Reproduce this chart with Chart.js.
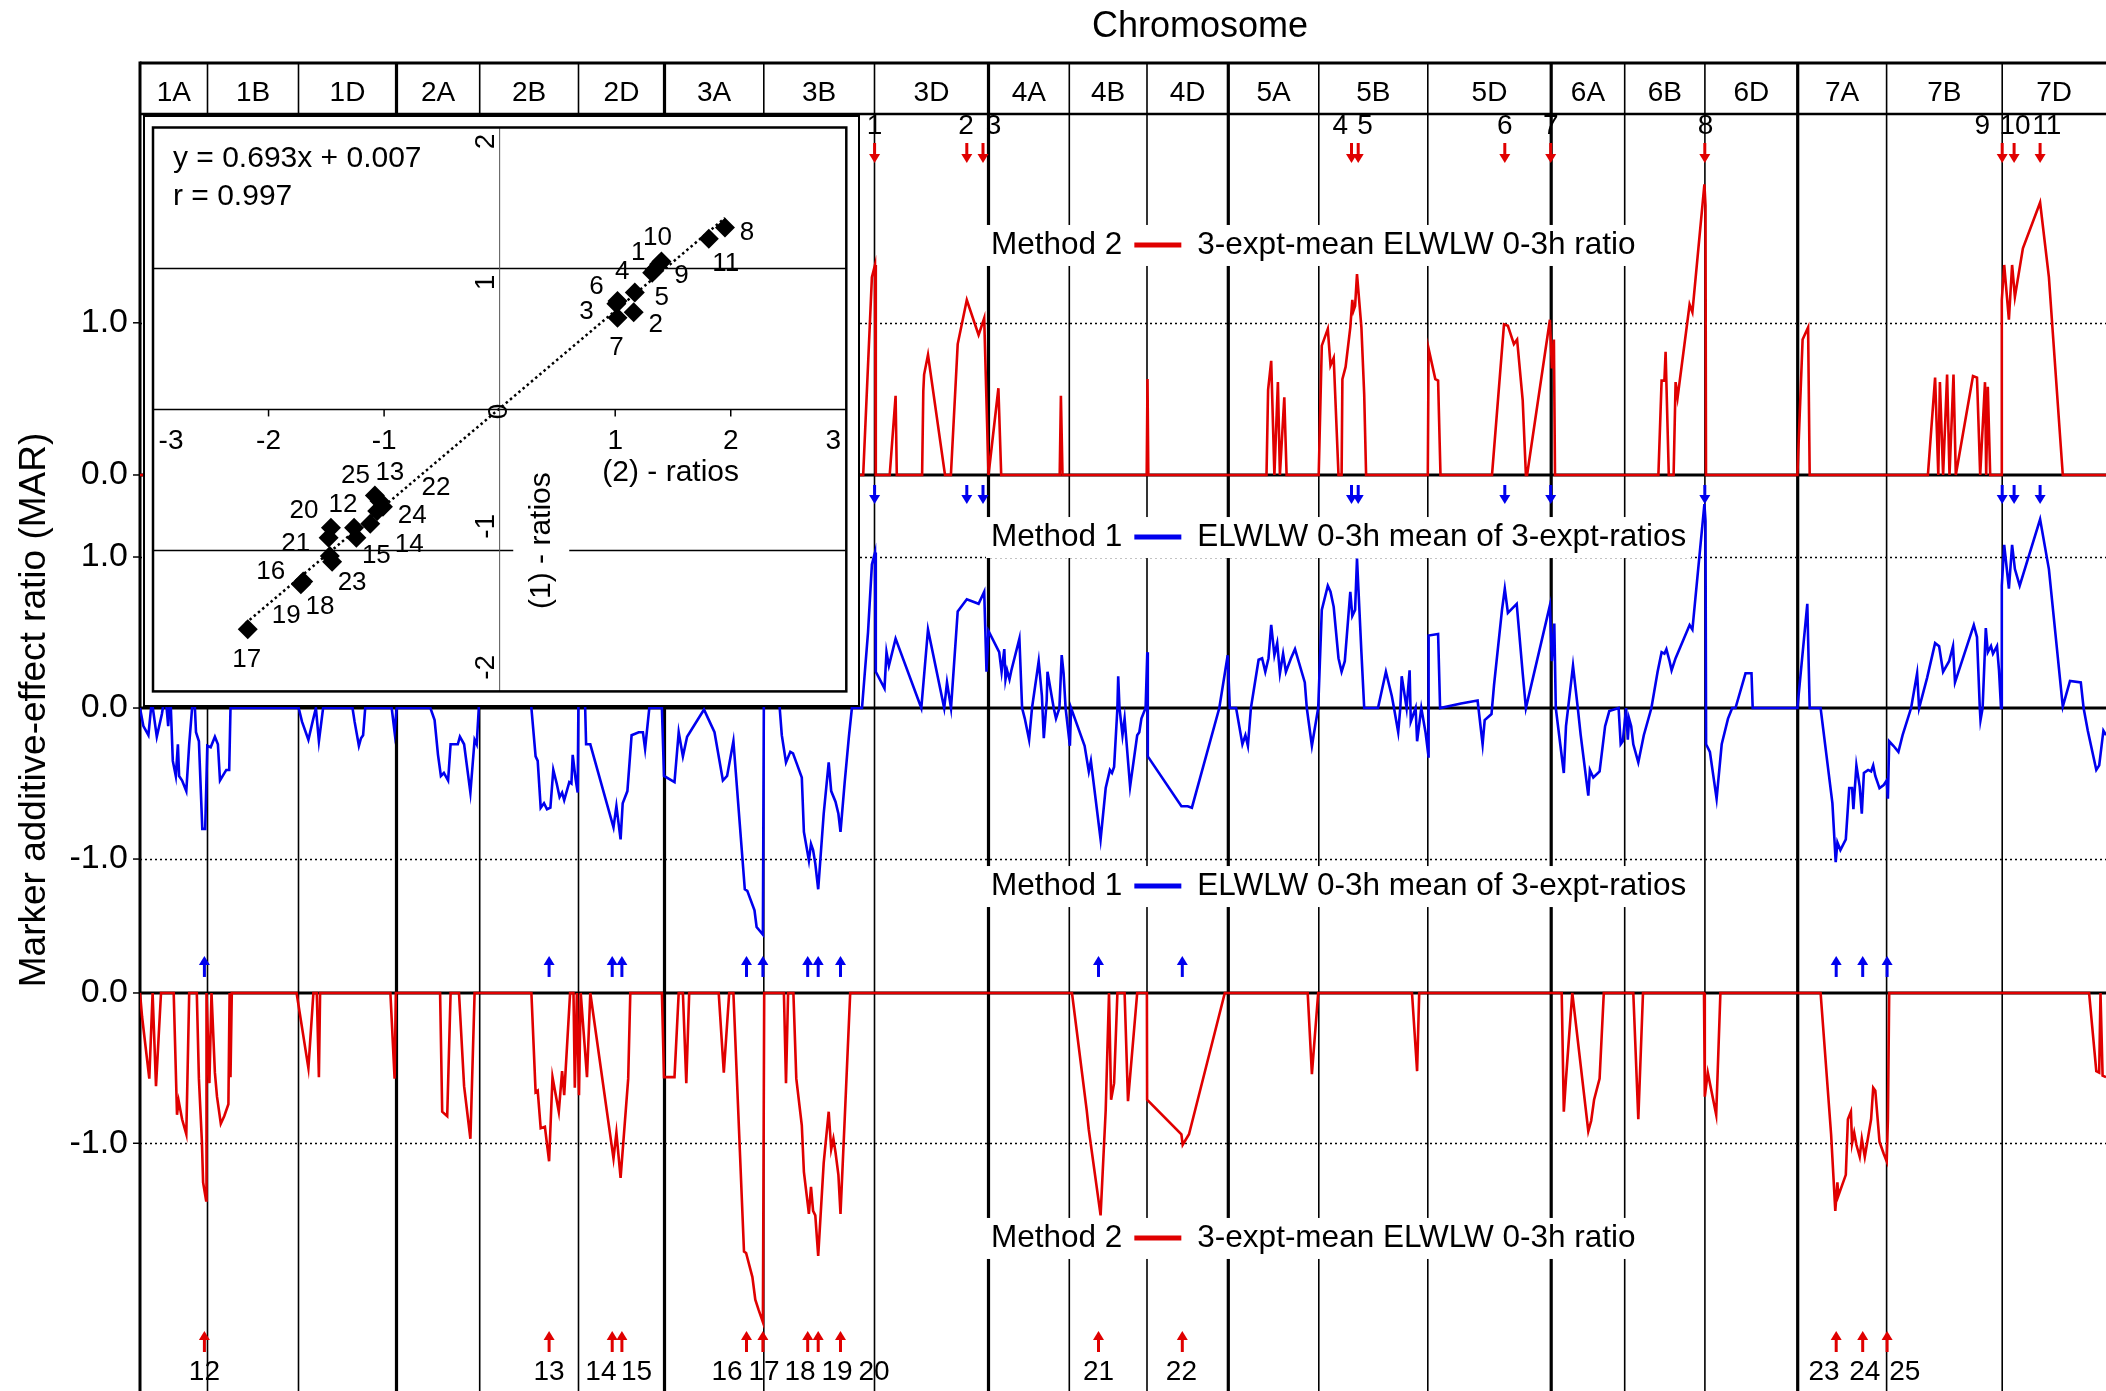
<!DOCTYPE html>
<html>
<head>
<meta charset="utf-8">
<script src="https://cdn.jsdelivr.net/npm/chart.js@4.4.1/dist/chart.umd.min.js"></script>
<style>
	html, body { margin: 0; padding: 0; background: #fff; }
	#wrap { position: relative; width: 2106px; height: 1391px; overflow: hidden; }
	#main { position: absolute; left: 0; top: 0; }
	#inset { position: absolute; left: 143px; top: 115px; }
</style>
</head>
<body>
<div id="wrap">
	<canvas id="main" width="2106" height="1391"></canvas>
	<canvas id="inset" width="717" height="592"></canvas>
</div>
<script>
// chromosome map (cumulative map position, cM)
const chromosomes = ["1A", "1B", "1D", "2A", "2B", "2D", "3A", "3B", "3D", "4A", "4B", "4D", "5A", "5B", "5D", "6A", "6B", "6D", "7A", "7B", "7D"]
const chromStarts = [0, 67.5, 158.5, 256.5, 339.7, 438.5, 524.5, 623.8, 734.5, 848.5, 929.3, 1007, 1088.3, 1178.8, 1287.8, 1411.2, 1484.7, 1564.9, 1657.7, 1746.6, 1862.2]
const mapEnd = 1966

// Method 2: 3-expt-mean ratio, positive effects (top panel)
const method2Up = [
	[0, 0], [723.2, 0], [731.9, 1.30], [735, 1.38], [735.8, 0], [749.7, 0], [755.6, 0.52], [756.8, 0], [782.1, 0], [783.3, 0.55], [784.1, 0.66], [788, 0.79], [805, 0],
	[810.9, 0], [817.7, 0.86], [826.8, 1.15], [838.6, 0.92], [844.2, 1.03], [848.5, 0], [858.4, 0.57], [861.2, 0], [919.7, 0], [920.9, 0.52], [922.5, 0],
	[1006.7, 0], [1007.5, 0.63], [1008.3, 0], [1126.5, 0], [1128.1, 0.56], [1131.2, 0.75], [1134.4, 0], [1137.9, 0.61], [1139.9, 0], [1144.3, 0.51], [1146.6, 0],
	[1178.7, 0], [1181.8, 0.85], [1187.8, 0.96], [1190.5, 0.72], [1193.7, 0.77], [1198.5, 0], [1201.6, 0], [1202.4, 0.63], [1205.6, 0.71], [1210.3, 0.97],
	[1212.3, 1.15], [1213.5, 1.08], [1215.1, 1.11], [1217, 1.32], [1221.4, 0.97], [1224.2, 0.53], [1226.1, 0], [1287.8, 0], [1288.6, 0.83], [1295.3, 0.63],
	[1298.1, 0.62], [1300.5, 0], [1352, 0], [1364, 0.99], [1367.9, 0.98], [1373.9, 0.86], [1377.1, 0.89], [1382.7, 0.49], [1385.9, 0], [1387.1, 0],
	[1409.9, 1.02], [1411.9, 0.70], [1413.9, 0.89], [1415, 0], [1518.4, 0], [1521.6, 0.62], [1524.4, 0.62], [1525.6, 0.81], [1528.8, 0], [1533.6, 0],
	[1535.6, 0.61], [1537.6, 0.51], [1549.6, 1.12], [1552.4, 1.07], [1564.4, 1.91], [1565.5, 1.77], [1566, 0], [1657.4, 0], [1662.6, 0.89], [1668.1, 0.97],
	[1669.7, 0], [1787.9, 0], [1795.1, 0.64], [1798.3, 0], [1799.9, 0.61], [1803.1, 0], [1807.1, 0.66], [1809.5, 0], [1813.5, 0.66], [1815.8, 0],
	[1833, 0.65], [1837, 0.64], [1840.2, 0], [1845, 0.61], [1846.2, 0], [1847.8, 0.58], [1850.2, 0], [1861, 0], [1861.8, 1.15], [1864.2, 1.38],
	[1868.9, 1.02], [1872.1, 1.38], [1874.9, 1.17], [1882.9, 1.49], [1900.1, 1.79], [1908.9, 1.30], [1922.8, 0], [1966, 0],
]

// Method 1: mean of 3-expt ratios (middle panel)
const method1 = [
	[0, 0], [3.4, -0.12], [8.4, -0.18], [11.8, 0.05], [16.8, -0.19], [21.9, -0.04], [25.3, 0.1], [28.2, -0.12], [30.3, 0.1], [32.8, -0.35], [35.8, -0.45],
	[37.9, -0.24], [39.1, -0.45], [42.1, -0.48], [46.3, -0.55], [49.2, -0.24], [53.9, 0.15], [56, -0.16], [58.9, -0.22], [62.3, -0.80], [65.2, -0.80],
	[67.3, -0.25], [70.7, -0.26], [74.9, -0.19], [77.9, -0.24], [80, -0.48], [86.3, -0.41], [89.2, -0.41], [90.5, 0],
	[158.7, 0], [162, -0.09], [168.4, -0.21], [172.6, -0.09], [175.9, 0], [178.9, -0.22], [183.1, 0],
	[212.5, 0], [214.6, -0.09], [218.9, -0.25], [221, -0.20], [223.1, -0.18], [225.2, 0], [251.7, 0], [254.6, -0.16], [256.7, 0],
	[290.4, 0], [294.6, -0.08], [298, -0.31], [300.9, -0.45], [303.9, -0.43], [308.1, -0.48], [310.6, -0.24], [317.8, -0.24], [319.9, -0.19],
	[324.1, -0.24], [330.4, -0.56], [334.6, -0.21], [336.7, -0.24], [338.8, 0], [339.5, 0.6], [390.5, 0.4],
	[391.4, 0], [395.6, -0.32], [397.7, -0.35], [400.7, -0.66], [404, -0.63], [407, -0.67], [410.4, -0.66], [413.3, -0.41], [416.7, -0.50],
	[419.6, -0.59], [422.1, -0.56], [424.2, -0.61], [429.3, -0.49], [431.4, -0.50], [432.7, -0.31], [435.6, -0.47], [437.7, -0.56], [439, 0.5],
	[444, 0.3], [446.1, -0.24], [450.3, -0.24], [473.5, -0.79], [476.4, -0.65], [480.6, -0.87], [482.7, -0.63], [487.4, -0.55], [491.6, -0.18],
	[498.7, -0.16], [502.9, -0.16], [505.1, -0.27], [509.3, 0], [521.9, 0], [524, -0.45], [534.5, -0.49], [538.7, -0.16], [542.9, -0.32],
	[547.1, -0.19], [564, -0.01], [568.2, -0.07], [574.5, -0.16], [582.9, -0.48], [587.1, -0.45], [593.4, -0.22], [604.8, -1.20], [607.3, -1.21],
	[614.5, -1.34], [616.6, -1.45], [622.9, -1.50], [624.2, 0.6], [638, 0.3], [639.7, 0], [641.8, -0.18], [646, -0.36], [650.3, -0.29], [653, -0.30],
	[656.3, -0.36], [661.8, -0.46], [663.9, -0.82], [668.9, -1.01], [671, -0.90], [673.1, -0.94], [675.3, -1.03], [678.2, -1.20], [683.7, -0.70],
	[688.7, -0.36], [691.2, -0.55], [695.5, -0.62], [698.4, -0.70], [700.5, -0.82], [704.7, -0.49], [708.9, -0.19], [711.9, 0],
	[722, 0], [728, 0.5], [731.9, 0.95], [735, 1.03], [735.8, 0.24], [744.5, 0.13], [746.5, 0.37], [748.9, 0.28], [755.6, 0.46], [781.3, 0],
	[788, 0.52], [804.2, 0], [807, 0.17], [811, 0], [817.7, 0.64], [826.8, 0.72], [838.6, 0.69], [844.2, 0.77], [846.5, 0.24], [848.5, 0.51],
	[859.2, 0.37], [861.6, 0.24], [864.3, 0.39], [865.5, 0.19], [867.1, 0.25], [869.5, 0.19], [871.4, 0.25], [879.4, 0.46], [882.1, 0],
	[884.8, -0.07], [889.1, -0.21], [892, 0], [898.7, 0.31], [901.9, 0.08], [903.8, -0.20], [906.7, 0.05], [907.5, 0.24], [913.7, 0], [916, -0.07],
	[919.4, 0], [921.7, 0.35], [923.6, 0.23], [925.6, 0], [929.9, -0.25], [931.1, 0], [944.6, -0.25], [948.8, -0.42], [950.9, -0.35],
	[960.6, -0.87], [965.7, -0.53], [969.9, -0.41], [972, -0.43], [974.1, -0.39], [977.4, 0], [978.2, 0.21], [979.5, 0], [982.5, -0.18],
	[984.6, -0.07], [990.1, -0.52], [997.2, -0.18], [999.3, -0.16], [1001.4, -0.07], [1005.6, 0], [1007.3, 0.37], [1007.8, -0.32], [1041.4, -0.65],
	[1047.7, -0.65], [1051.9, -0.66], [1079.3, 0], [1087.7, 0.35], [1089.8, 0], [1096.1, 0], [1102.4, -0.24], [1105.4, -0.18], [1107.9, -0.25],
	[1110.9, 0], [1118.6, 0.32], [1122.1, 0.33], [1125.3, 0.24], [1128.5, 0.33], [1131.2, 0.55], [1134.4, 0.35], [1137.2, 0.43], [1139.9, 0.23],
	[1143.1, 0.36], [1145.9, 0.24], [1151, 0.33], [1155, 0.39], [1164.8, 0.17], [1166.8, 0], [1171.9, -0.25], [1178.2, 0], [1181.8, 0.65],
	[1187.8, 0.81], [1190.5, 0.77], [1193.7, 0.67], [1198.5, 0.33], [1201.6, 0.24], [1204.8, 0.31], [1210.3, 0.77], [1212.3, 0.61], [1215.1, 0.65],
	[1217, 0.99], [1221.4, 0.37], [1224.2, 0], [1238, 0], [1245.9, 0.24], [1251.8, 0.08], [1254, 0], [1258.2, -0.16], [1260.3, 0], [1261.7, 0.21],
	[1266.6, 0], [1269.6, 0.25], [1270.8, -0.09], [1275.6, 0], [1277.1, -0.22], [1281.3, 0], [1285.5, -0.16], [1288.5, -0.32], [1288.6, 0.48],
	[1298.1, 0.49], [1300.1, 0], [1321, 0.03], [1337.6, 0.05], [1342.6, -0.24], [1344.7, -0.08], [1351.5, -0.04], [1354, 0.15], [1362, 0.65],
	[1364.8, 0.79], [1367.9, 0.63], [1376.7, 0.69], [1382.7, 0.23], [1385.9, 0], [1409.9, 0.68], [1411.9, 0.31], [1414.3, 0.56], [1415.8, 0],
	[1423.8, -0.43], [1426, -0.12], [1428.1, 0], [1433, 0.28], [1437.8, 0], [1440.7, -0.18], [1448.3, -0.58], [1449.9, -0.41], [1453.3, -0.46],
	[1459.6, -0.42], [1465.1, -0.12], [1469.3, -0.02], [1478.6, 0], [1480.7, -0.24], [1482.8, -0.22], [1486.1, 0], [1487.8, -0.21], [1489.1, -0.07],
	[1491.2, -0.12], [1493.3, -0.24], [1498.3, -0.36], [1503.8, -0.18], [1511.4, 0], [1517.6, 0.24], [1521.6, 0.37], [1524.4, 0.36], [1526.4, 0.39],
	[1529.6, 0.31], [1531.6, 0.25], [1535.6, 0.33], [1549.6, 0.55], [1552.4, 0.52], [1564.4, 1.35], [1565.5, 1.24], [1566.1, -0.24], [1569.9, -0.29],
	[1576.6, -0.60], [1581.7, -0.24], [1588, -0.07], [1592.2, 0], [1595.5, 0], [1605.5, 0.23], [1611.5, 0.23], [1612.7, 0], [1657.4, 0],
	[1667.3, 0.69], [1669.7, 0], [1680.6, 0], [1692.4, -0.63], [1695.7, -1.02], [1697.4, -0.89], [1700.4, -0.94], [1705.8, -0.87], [1709.2, -0.53],
	[1712.1, -0.53], [1713.4, -0.67], [1716.4, -0.38], [1719.7, -0.52], [1721.8, -0.70], [1723.9, -0.43], [1728.1, -0.41], [1731.1, -0.42],
	[1733.2, -0.38], [1735.3, -0.45], [1739.5, -0.53], [1743.7, -0.51], [1746.7, -0.48], [1747.9, -0.60], [1749.2, -0.22], [1753.4, -0.25],
	[1758.4, -0.29], [1762.6, -0.18], [1771.1, 0], [1777.1, 0.23], [1779.1, 0], [1787.1, 0.20], [1795.1, 0.43], [1799.1, 0.41], [1803.1, 0.24],
	[1809.1, 0.31], [1813, 0.41], [1815, 0.17], [1833.8, 0.55], [1837, 0.47], [1839.8, 0], [1840.5, -0.08], [1842.6, 0], [1845.8, 0.53],
	[1847.8, 0.37], [1851, 0.41], [1853, 0.36], [1857, 0.41], [1859, 0.25], [1861, 0], [1861.8, 0.81], [1864.2, 1.08], [1868.9, 0.79],
	[1872.1, 1.08], [1874.9, 0.92], [1879.7, 0.81], [1900.1, 1.25], [1908.9, 0.92], [1922.8, 0.01], [1930, 0.18], [1940.8, 0.17], [1943.6, 0],
	[1947.8, -0.15], [1956.3, -0.41], [1959.2, -0.38], [1963.4, -0.15], [1966, -0.18],
]

// Method 2: 3-expt-mean ratio, negative effects (bottom panel)
const method2Down = [
	[0, 0], [2.1, -0.16], [9.3, -0.57], [12.6, 0], [16, -0.62], [21, 0], [33.7, 0], [37, -0.81], [38.7, -0.72], [42.1, -0.84], [46.3, -0.94],
	[49.2, 0], [56.8, 0], [58.9, -0.57], [61.9, -0.99], [63.1, -1.26], [66.1, -1.38], [66.5, 0], [69.4, -0.60], [71.5, 0], [74.9, -0.53], [77, -0.69],
	[80.8, -0.87], [84.2, -0.82], [88.4, -0.74], [89.6, 0], [90.5, -0.56], [91.8, 0], [156.6, 0], [168.4, -0.50], [173.4, 0], [176.8, 0],
	[178.9, -0.56], [180.1, 0], [250.4, 0], [254.6, -0.57], [255.9, 0], [300.1, 0], [302.2, -0.79], [307.2, -0.82], [310.6, 0], [319, 0],
	[324.1, -0.62], [330.4, -0.97], [334.6, 0], [391.4, 0], [395.6, -0.66], [397.7, -0.65], [400.7, -0.90], [404.9, -0.89], [409.1, -1.12],
	[412.5, -0.56], [418.8, -0.79], [422.1, -0.52], [424.2, -0.68], [430.1, 0], [433.5, 0], [434.8, -0.63], [436.9, 0], [439, -0.68], [440.7, 0],
	[447, -0.56], [450.3, 0], [473.5, -1.10], [476.4, -0.93], [480.6, -1.23], [488.2, -0.57], [490.3, 0], [521.9, 0], [524, -0.56], [534.5, -0.56],
	[538.7, 0], [542.9, 0], [546.3, -0.60], [549.2, 0], [578.7, 0], [583.8, -0.53], [589.2, 0], [593.4, 0], [604, -1.72], [606.1, -1.73],
	[612.4, -1.89], [615.3, -2.04], [618.7, -2.11], [622.9, -2.19], [624.2, 0], [643.9, 0], [646, -0.60], [648.1, 0], [653.4, 0], [656.3, -0.57],
	[661.8, -0.88], [663.9, -1.19], [668.9, -1.47], [671, -1.29], [673.1, -1.45], [675.3, -1.48], [678.2, -1.75], [683.7, -1.13], [688.7, -0.79],
	[691.2, -1.04], [693.4, -0.97], [695.5, -1.06], [698.4, -1.21], [700.5, -1.47], [704.7, -0.84], [710.2, 0], [932, 0], [946.7, -0.78],
	[948.8, -0.91], [960.6, -1.48], [965.7, -0.78], [969, 0], [971.1, -0.71], [974.1, -0.60], [977.4, 0], [984.6, 0], [988, -0.72], [997.2, 0],
	[1006.9, 0], [1007.1, -0.71], [1041.4, -0.94], [1042.7, -1.01], [1049, -0.94], [1084.8, 0], [1167.7, 0], [1171.9, -0.54], [1178.2, 0],
	[1272, 0], [1277.1, -0.52], [1279.2, 0], [1421.7, 0], [1423.8, -0.79], [1426, -0.57], [1432.3, 0], [1448.3, -0.92], [1451.2, -0.85],
	[1454.1, -0.71], [1459.6, -0.57], [1463.8, 0], [1493.3, 0], [1498.3, -0.84], [1503, 0], [1564, 0], [1564.8, -0.69], [1567.8, -0.53],
	[1576.2, -0.81], [1580.4, 0], [1680.6, 0], [1691.1, -0.94], [1695.3, -1.45], [1697.4, -1.26], [1698.3, -1.35], [1705.8, -1.21], [1707.9, -0.84],
	[1710.9, -0.79], [1712.1, -1.00], [1714.2, -0.93], [1716.4, -1.01], [1719.7, -1.09], [1721.8, -0.97], [1724.8, -1.09], [1731.1, -0.84],
	[1733.2, -0.63], [1735.3, -0.65], [1737.4, -0.82], [1739.5, -0.99], [1743.7, -1.07], [1746.7, -1.12], [1747.9, -0.84], [1749.2, 0],
	[1949.1, 0], [1956.3, -0.52], [1959.2, -0.53], [1960.5, 0], [1962.6, -0.55], [1966, -0.56],
]

// QTL markers 1-11 (positive) and 12-25 (negative)
const topQtlPos = [734.6, 826.8, 843, 1211.5, 1218.2, 1364.8, 1410.7, 1564.8, 1862.2, 1874.1, 1900.1]
const topQtlLabelPos = [734.6, 826, 853.6, 1200.4, 1225, 1364.8, 1410.7, 1565.5, 1842.2, 1875, 1906.9]
const bottomQtlPos = [64.4, 409.1, 472.2, 481.9, 606.5, 622.9, 667.7, 678.2, 700.5, 958.5, 1042.3, 1696.2, 1722.7, 1747.1]
const bottomQtlLabelPos = [64.4, 409.1, 460.9, 496.6, 587.1, 624, 660, 697, 734, 958.5, 1041.4, 1684, 1724.8, 1764.7]

// inset: QTL peak ratios, method 2 (x) vs method 1 (y), QTL 1..25
const scatterM2 = [1.38, 1.16, 1.01, 1.32, 1.17, 1.02, 1.02, 1.95, 1.34, 1.40, 1.81, -1.26, -1.08, -1.12, -1.24, -1.47, -2.18, -1.72, -1.70, -1.46, -1.48, -1.01, -1.45, -1.06, -1.04]
const scatterM1 = [1.03, 0.69, 0.75, 0.97, 0.83, 0.77, 0.65, 1.29, 0.99, 1.05, 1.21, -0.84, -0.61, -0.81, -0.91, -1.04, -1.56, -1.24, -1.22, -0.84, -0.91, -0.69, -1.08, -0.72, -0.65]
const fitSlope = 0.693
const fitIntercept = 0.007
const fitRange = [-2.2, 1.95]
const insetXTicks = [-3, -2, -1, 1, 2, 3]
const insetYTicks = [2, 1, -1, -2]

const FONT = '"Liberation Sans", Arial, Helvetica, sans-serif'
const RED = "#e00000"
const BLUE = "#0000ee"
const methodLabels = { 1: "ELWLW 0-3h mean of 3-expt-ratios", 2: "3-expt-mean ELWLW 0-3h ratio" }
// pixel offsets of the point numbers in the inset
const scatterLabelOffsets = [[-21, -11], [22, 13], [-30, 8], [-30, -1], [27, 5], [-21, -14], [-1, 30], [22, 5], [27, 6], [-4, -24], [17, 25],
	[-11, -23], [15, -23], [39, 21], [20, 18], [-59, 16], [-1, 30], [19, 23], [-17, 34], [-27, -17], [-33, 6], [53, -19], [20, 21], [35, 5], [-24, -25]]

Chart.defaults.font.family = FONT
Chart.defaults.color = "#000"

const toXY = (pairs) => pairs.map(([x, y]) => ({ x, y }))

function strokeLine(ctx, x0, y0, x1, y1) {
	ctx.beginPath()
	ctx.moveTo(x0, y0)
	ctx.lineTo(x1, y1)
	ctx.stroke()
}

function drawArrow(ctx, x, yTail, yTip, color) {
	const dir = Math.sign(yTip - yTail)
	const headLen = 9
	ctx.strokeStyle = color
	ctx.fillStyle = color
	ctx.lineWidth = 3
	strokeLine(ctx, x, yTail, x, yTip - dir * headLen)
	ctx.beginPath()
	ctx.moveTo(x, yTip)
	ctx.lineTo(x - 5.5, yTip - dir * headLen)
	ctx.lineTo(x + 5.5, yTip - dir * headLen)
	ctx.closePath()
	ctx.fill()
}

function drawLegend(ctx, x, y, method, color) {
	const name = `Method ${method}`
	const label = methodLabels[method]
	ctx.font = `31.5px ${FONT}`
	const lineX0 = x + ctx.measureText(name).width + 12
	const lineX1 = lineX0 + 47
	const textX = lineX1 + 16
	const right = textX + ctx.measureText(label).width
	ctx.fillStyle = "#fff"
	ctx.fillRect(x - 5, y - 20, right - x + 10, 41)
	ctx.fillStyle = "#000"
	ctx.textAlign = "left"
	ctx.textBaseline = "middle"
	ctx.fillText(name, x, y)
	ctx.fillText(label, textX, y)
	ctx.strokeStyle = color
	ctx.lineWidth = 5
	strokeLine(ctx, lineX0, y, lineX1, y)
}

const panelIds = ["yTop", "yMid", "yBot"]
const dottedAt = [["yTop", 1], ["yMid", 1], ["yMid", -1], ["yBot", -1]]

const mapDecor = {
	id: "mapDecor",
	beforeDatasetsDraw(chart) {
		const { ctx, chartArea: a, scales } = chart
		const xs = scales.x
		const headTop = a.top - 51
		ctx.save()
		ctx.strokeStyle = "#000"
		ctx.lineWidth = 1.3
		ctx.setLineDash([2, 3])
		dottedAt.forEach(([id, v]) => {
			const y = Math.round(scales[id].getPixelForValue(v)) + 0.5
			strokeLine(ctx, a.left, y, a.right, y)
		})
		ctx.setLineDash([])
		chromStarts.forEach((p, i) => {
			if (i === 0) return
			const px = xs.getPixelForValue(p)
			ctx.lineWidth = chromosomes[i][0] !== chromosomes[i - 1][0] ? 3.2 : 1.6
			strokeLine(ctx, px, headTop, px, a.bottom)
		})
		ctx.lineWidth = 3
		panelIds.forEach((id) => {
			const y = scales[id].getPixelForValue(0)
			strokeLine(ctx, a.left, y, a.right, y)
		})
		// short tick marks on the value axis
		ctx.lineWidth = 1.5
		panelIds.forEach((id) => {
			scales[id].ticks.forEach((t) => {
				const y = scales[id].getPixelForValue(t.value)
				strokeLine(ctx, a.left - 7, y, a.left, y)
			})
		})
		ctx.lineWidth = 3
		strokeLine(ctx, a.left, headTop, a.right, headTop)
		strokeLine(ctx, a.left, headTop - 1.5, a.left, a.bottom)
		ctx.lineWidth = 2.5
		strokeLine(ctx, a.left, a.top, a.right, a.top)

		ctx.fillStyle = "#000"
		ctx.font = `28px ${FONT}`
		ctx.textAlign = "center"
		ctx.textBaseline = "middle"
		chromosomes.forEach((c, i) => {
			const x0 = xs.getPixelForValue(chromStarts[i])
			const x1 = xs.getPixelForValue(i + 1 < chromStarts.length ? chromStarts[i + 1] : mapEnd)
			ctx.fillText(c, (x0 + x1) / 2, headTop + 30)
		})
		ctx.restore()
	},
	afterDatasetsDraw(chart) {
		const { ctx, chartArea: a, scales } = chart
		const xs = scales.x
		const zTop = scales.yTop.getPixelForValue(0)
		const zMid = scales.yMid.getPixelForValue(0)
		const zBot = scales.yBot.getPixelForValue(0)
		ctx.save()
		topQtlPos.forEach((p) => {
			const px = xs.getPixelForValue(p)
			drawArrow(ctx, px, a.top + 29, a.top + 49, RED)
			drawArrow(ctx, px, zTop + 10, zTop + 29, BLUE)
		})
		bottomQtlPos.forEach((p) => {
			const px = xs.getPixelForValue(p)
			drawArrow(ctx, px, zBot - 16, zBot - 37, BLUE)
			drawArrow(ctx, px, a.bottom - 39, a.bottom - 60, RED)
		})
		ctx.fillStyle = "#000"
		ctx.font = `28px ${FONT}`
		ctx.textAlign = "center"
		ctx.textBaseline = "middle"
		topQtlLabelPos.forEach((p, i) => ctx.fillText(String(i + 1), xs.getPixelForValue(p), a.top + 12))
		bottomQtlLabelPos.forEach((p, i) => ctx.fillText(String(i + 12), xs.getPixelForValue(p), a.bottom - 19))

		const lx = a.left + 851
		drawLegend(ctx, lx, zTop - 230, 2, RED)
		drawLegend(ctx, lx, zMid - 171, 1, BLUE)
		drawLegend(ctx, lx, zMid + 178, 1, BLUE)
		drawLegend(ctx, lx, zBot + 245, 2, RED)

		ctx.fillStyle = "#000"
		ctx.textAlign = "center"
		ctx.textBaseline = "middle"
		ctx.font = `36px ${FONT}`
		ctx.fillText("Chromosome", a.left + 1060, a.top - 87)
		ctx.font = `37px ${FONT}`
		ctx.translate(35, 710)
		ctx.rotate(-Math.PI / 2)
		ctx.fillText("Marker additive-effect ratio (MAR)", 0, 0)
		ctx.restore()
	},
}

function panelScale(min, max, ticks, stackWeight, weight) {
	return {
		type: "linear",
		position: "left",
		stack: "mar",
		stackWeight,
		weight,
		min,
		max,
		grid: { display: false, drawTicks: false },
		border: { display: false },
		ticks: {
			autoSkip: false,
			padding: 12,
			font: { size: 34 },
			color: "#000",
			callback: (v) => Number(v).toFixed(1),
		},
		afterBuildTicks: (s) => { s.ticks = ticks.map((value) => ({ value })) },
		afterFit: (s) => {
			s.width = 140
			s.paddingTop = 0
			s.paddingBottom = 0
		},
	}
}

const lineSet = (data, color, yAxisID) => ({
	data: toXY(data),
	yAxisID,
	borderColor: color,
	borderWidth: 2.6,
	pointRadius: 0,
	tension: 0,
	fill: false,
})

new Chart(document.getElementById("main"), {
	type: "line",
	data: {
		datasets: [
			lineSet(method2Up, RED, "yTop"),
			lineSet(method1, BLUE, "yMid"),
			lineSet(method2Down, RED, "yBot"),
		],
	},
	options: {
		responsive: false,
		animation: false,
		events: [],
		layout: { padding: { top: 114, left: 0, right: 0, bottom: 0 } },
		scales: {
			x: { type: "linear", min: 0, max: mapEnd, display: false },
			yTop: panelScale(-0.033, 2.372, [0, 1], 366, 3),
			yMid: panelScale(-1.834, 1.51, [-1, 0, 1], 505, 2),
			yBot: panelScale(-2.648, 0.053, [-1, 0], 406, 1),
		},
		plugins: { legend: { display: false }, tooltip: { enabled: false } },
	},
	plugins: [mapDecor],
})

function rotText(ctx, text, x, y) {
	ctx.save()
	ctx.translate(x, y)
	ctx.rotate(-Math.PI / 2)
	ctx.fillText(text, 0, 0)
	ctx.restore()
}

const insetDecor = {
	id: "insetDecor",
	beforeDraw(chart) {
		const { ctx, width, height } = chart
		ctx.save()
		ctx.fillStyle = "#fff"
		ctx.fillRect(0, 0, width, height)
		ctx.restore()
	},
	beforeDatasetsDraw(chart) {
		const { ctx, chartArea: a, scales: { x, y } } = chart
		const x0 = x.getPixelForValue(0)
		const y0 = y.getPixelForValue(0)
		ctx.save()
		ctx.strokeStyle = "#000"
		ctx.lineWidth = 1.5
		;[-1, 0, 1].forEach((v) => {
			const py = y.getPixelForValue(v)
			strokeLine(ctx, a.left, py, a.right, py)
		})
		insetXTicks.forEach((v) => {
			if (Math.abs(v) === 3) return
			const px = x.getPixelForValue(v)
			strokeLine(ctx, px, y0, px, y0 + 7)
		})
		ctx.strokeStyle = "#555"
		ctx.lineWidth = 1
		strokeLine(ctx, x0, a.top, x0, a.bottom)

		ctx.strokeStyle = "#000"
		ctx.lineWidth = 2.5
		ctx.strokeRect(a.left, a.top, a.width, a.height)
		ctx.lineWidth = 2
		ctx.strokeRect(1, 1, chart.width - 2, chart.height - 2)

		ctx.fillStyle = "#000"
		ctx.textAlign = "center"
		ctx.textBaseline = "middle"
		ctx.font = `28px ${FONT}`
		insetXTicks.forEach((v) => {
			const px = Math.min(Math.max(x.getPixelForValue(v), a.left + 18), a.right - 13)
			ctx.fillText(String(v), px, y0 + 32)
		})
		insetYTicks.forEach((v) => rotText(ctx, String(v), x0 - 13, y.getPixelForValue(v) + (v > 0 ? 14 : -24)))
		rotText(ctx, "0", x0, y0 + 2)

		ctx.font = `30px ${FONT}`
		ctx.fillText("(2) - ratios", x.getPixelForValue(1.48), y.getPixelForValue(-0.45))
		const tx = x.getPixelForValue(0.36)
		const ty = y.getPixelForValue(-0.93)
		const tw = ctx.measureText("(1) - ratios").width
		ctx.fillStyle = "#fff"
		ctx.fillRect(tx - 28, ty - tw / 2 - 6, 56, tw + 12)
		ctx.fillStyle = "#000"
		rotText(ctx, "(1) - ratios", tx, ty)

		ctx.textAlign = "left"
		ctx.fillText(`y = ${fitSlope.toFixed(3)}x + ${fitIntercept.toFixed(3)}`, a.left + 20, a.top + 31)
		ctx.fillText("r = 0.997", a.left + 20, a.top + 69)
		ctx.restore()
	},
	afterDatasetsDraw(chart) {
		const { ctx, scales: { x, y } } = chart
		ctx.save()
		ctx.fillStyle = "#000"
		ctx.font = `26px ${FONT}`
		ctx.textAlign = "center"
		ctx.textBaseline = "middle"
		scatterM2.forEach((v, i) => {
			const [dx, dy] = scatterLabelOffsets[i]
			ctx.fillText(String(i + 1), x.getPixelForValue(v) + dx, y.getPixelForValue(scatterM1[i]) + dy)
		})
		ctx.restore()
	},
}

new Chart(document.getElementById("inset"), {
	type: "scatter",
	data: {
		datasets: [
			{
				data: scatterM2.map((v, i) => ({ x: v, y: scatterM1[i] })),
				pointStyle: "rectRot",
				pointRadius: 10,
				backgroundColor: "#000",
				borderColor: "#000",
				borderWidth: 0,
			},
			{
				data: fitRange.map((v) => ({ x: v, y: fitSlope * v + fitIntercept })),
				showLine: true,
				borderColor: "#000",
				borderWidth: 2.5,
				borderDash: [2.5, 3],
				pointRadius: 0,
			},
		],
	},
	options: {
		responsive: false,
		animation: false,
		events: [],
		layout: { padding: { left: 10, right: 13.7, top: 12.5, bottom: 15.6 } },
		scales: {
			x: { type: "linear", min: -3, max: 3, display: false },
			y: { type: "linear", min: -2, max: 2, display: false },
		},
		plugins: { legend: { display: false }, tooltip: { enabled: false } },
	},
	plugins: [insetDecor],
})
</script>
</body>
</html>
